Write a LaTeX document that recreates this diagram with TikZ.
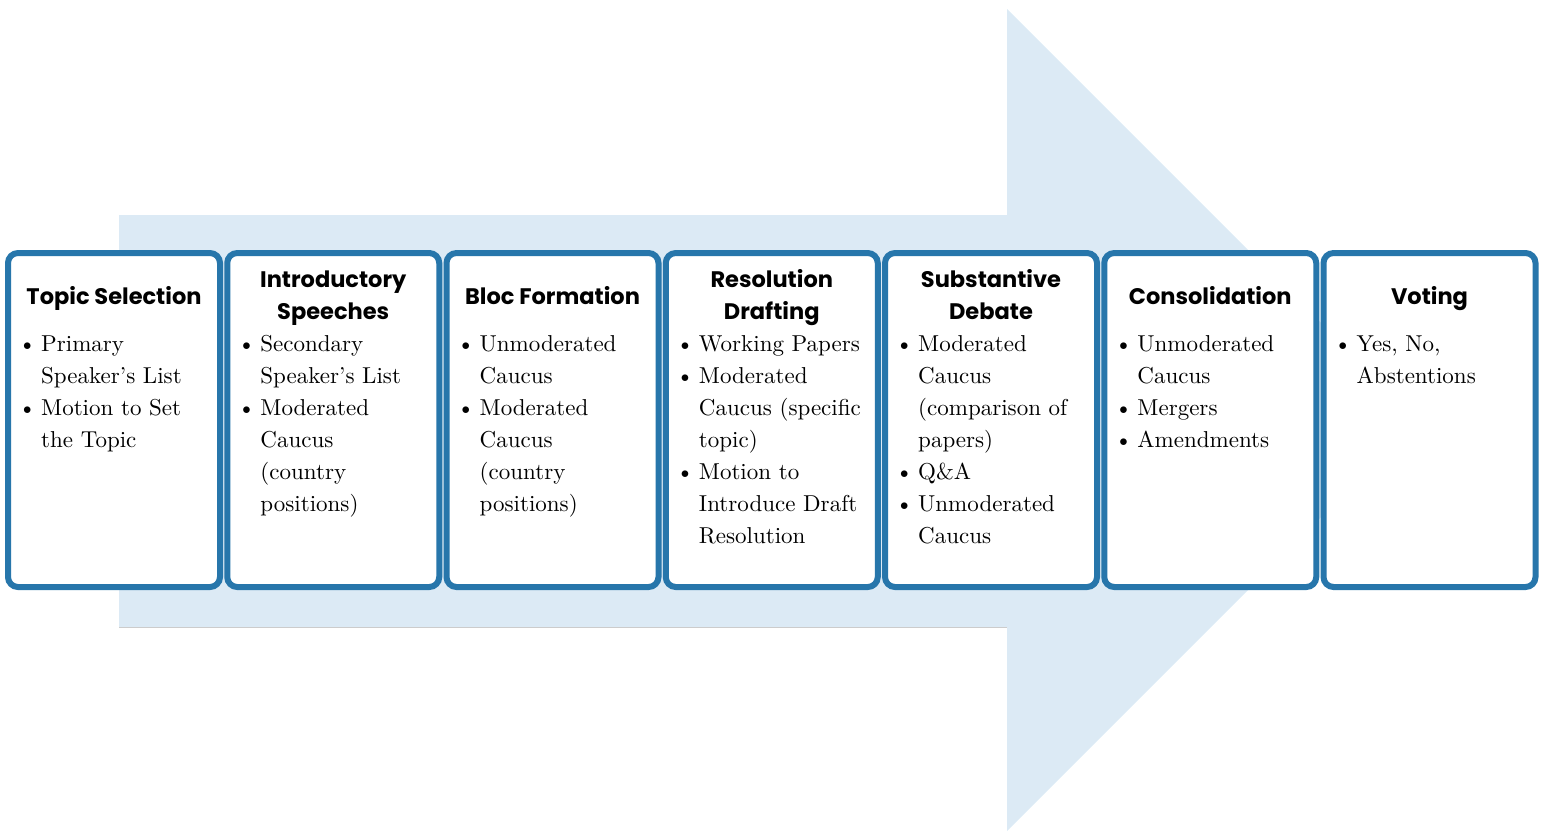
\documentclass[tikz,border=0pt]{standalone}
\usepackage{fontspec}
\setmainfont{lmroman10-regular}[Extension=.otf]
\newfontfamily\headfont{Poppins}
\definecolor{stageblue}{HTML}{2776AB}
\definecolor{flowfill}{HTML}{DCEAF5}
\newcommand\bul{\leavevmode\llap{\textbullet\hspace{5pt}}}
\begin{document}
\begin{tikzpicture}[x=1pt,y=-1pt,
  stagebox/.style={draw=stageblue,line width=6pt,rounded corners=10pt,fill=white,
    minimum width=212pt,minimum height=334pt,inner sep=0pt},
  stagetitle/.style={anchor=base,inner sep=0pt,align=center,
    font=\headfont\bfseries\fontsize{22.5}{32}\selectfont},
  stagebody/.style={anchor=base west,inner sep=0pt,
    font=\fontsize{23}{32}\selectfont}]

\useasboundingbox (0,0) rectangle (1544,831);

% big background arrow
\fill[flowfill] (119,215) -- (1007,215) -- (1007,9) -- (1418,420)
  -- (1007,831) -- (1007,627) -- (119,627) -- cycle;
\draw[black!20,line width=1pt] (119,627) -- (1007,627);

% stage boxes
\foreach \i in {0,...,6}
  \node[stagebox] (box\i) at (114+219.25*\i,420) {};

% titles
\node[stagetitle] (t0) at (114,304) {Topic Selection};
\node[stagetitle] (t1) at (333.25,287) {\parbox[t]{200pt}{\centering Introductory\\Speeches}};
\node[stagetitle] (t2) at (552.5,304) {Bloc Formation};
\node[stagetitle] (t3) at (771.75,287) {\parbox[t]{200pt}{\centering Resolution\\Drafting}};
\node[stagetitle] (t4) at (991,287) {\parbox[t]{200pt}{\centering Substantive\\Debate}};
\node[stagetitle] (t5) at (1210.25,304) {Consolidation};
\node[stagetitle] (t6) at (1429.5,304) {Voting};

% bullet lists
\node[stagebody] (b0) at (41,351) {\parbox[t]{180pt}{\raggedright
  \bul Primary\\Speaker’s List\\\bul Motion to Set\\the Topic}};
\node[stagebody] (b1) at (260.25,351) {\parbox[t]{180pt}{\raggedright
  \bul Secondary\\Speaker’s List\\\bul Moderated\\Caucus\\(country\\positions)}};
\node[stagebody] (b2) at (479.5,351) {\parbox[t]{180pt}{\raggedright
  \bul Unmoderated\\Caucus\\\bul Moderated\\Caucus\\(country\\positions)}};
\node[stagebody] (b3) at (698.75,351) {\parbox[t]{180pt}{\raggedright
  \bul Working Papers\\\bul Moderated\\Caucus (specific\\topic)\\\bul Motion to\\Introduce Draft\\Resolution}};
\node[stagebody] (b4) at (918,351) {\parbox[t]{180pt}{\raggedright
  \bul Moderated\\Caucus\\(comparison of\\papers)\\\bul Q\&A\\\bul Unmoderated\\Caucus}};
\node[stagebody] (b5) at (1137.25,351) {\parbox[t]{180pt}{\raggedright
  \bul Unmoderated\\Caucus\\\bul Mergers\\\bul Amendments}};
\node[stagebody] (b6) at (1356.5,351) {\parbox[t]{180pt}{\raggedright
  \bul Yes, No,\\Abstentions}};
\end{tikzpicture}
\end{document}
